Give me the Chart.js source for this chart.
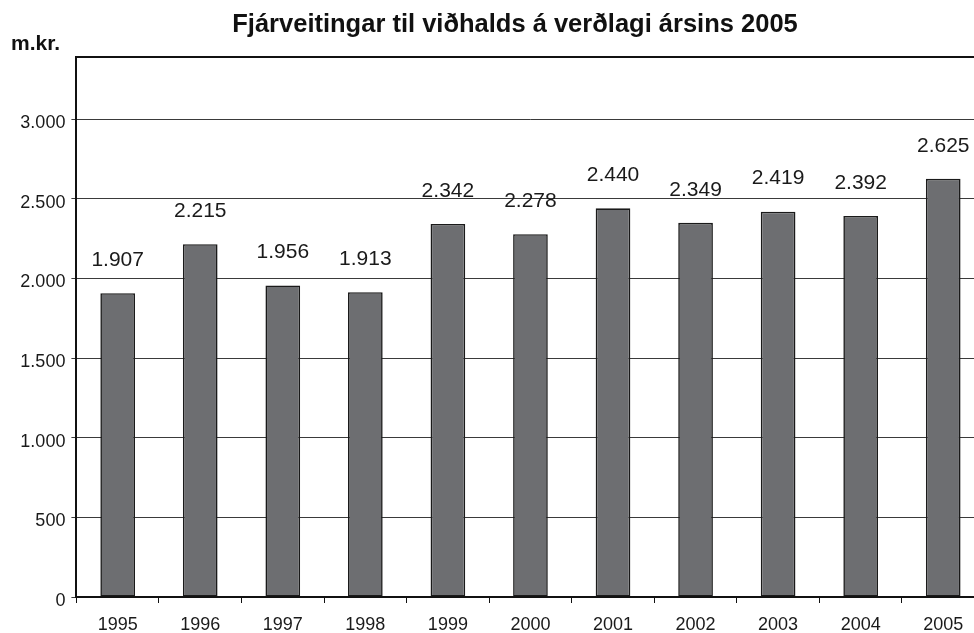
<!DOCTYPE html>
<html>
<head>
<meta charset="utf-8">
<script src="https://cdn.jsdelivr.net/npm/chart.js@4.4.1/dist/chart.umd.min.js"></script>
<style>
html,body{margin:0;padding:0;background:#fff;overflow:hidden;width:974px;height:633px;}
#wrap{width:1000px;height:633px;position:relative;}
</style>
</head>
<body>
<div id="wrap"><canvas id="c"></canvas></div>
<script>
const titleText = 'Fjárveitingar til viðhalds á verðlagi ársins 2005';
const unitLabel = 'm.kr.';
const years = ['1995','1996','1997','1998','1999','2000','2001','2002','2003','2004','2005'];
const amounts = [1907, 2215, 1956, 1913, 2342, 2278, 2440, 2349, 2419, 2392, 2625];
const yTicks = [0, 500, 1000, 1500, 2000, 2500, 3000];

const fmt = v => String(v).replace(/\B(?=(\d{3})+(?!\d))/g, '.');
const FONT = '"Liberation Sans", Arial, Helvetica, sans-serif';

const framePlugin = {
  id: 'frame',
  afterDraw(chart) {
    const ctx = chart.ctx, a = chart.chartArea;
    ctx.save();
    ctx.strokeStyle = '#111';
    ctx.lineWidth = 2;
    ctx.beginPath();
    ctx.moveTo(a.left - 1, a.top);
    ctx.lineTo(a.right, a.top);
    ctx.stroke();
    // title
    ctx.fillStyle = '#111';
    ctx.font = 'bold 25.5px ' + FONT;
    ctx.textAlign = 'center';
    ctx.textBaseline = 'alphabetic';
    ctx.fillText(titleText, 515, 32);
    // unit label
    ctx.font = 'bold 21px ' + FONT;
    ctx.textAlign = 'left';
    ctx.fillText(unitLabel, 11, 50);
    // data labels
    ctx.font = '21px ' + FONT;
    ctx.fillStyle = '#1a1a1a';
    ctx.textAlign = 'center';
    ctx.textBaseline = 'middle';
    const meta = chart.getDatasetMeta(0);
    meta.data.forEach((bar, i) => {
      ctx.fillText(fmt(amounts[i]), bar.x, bar.y - 33);
    });
    ctx.restore();
  }
};

new Chart(document.getElementById('c'), {
  type: 'bar',
  data: {
    labels: years,
    datasets: [{
      data: amounts,
      backgroundColor: '#6d6e71',
      borderColor: '#1a1a1a',
      borderWidth: 1.6,
      borderSkipped: false,
      barPercentage: 0.42,
      categoryPercentage: 1
    }]
  },
  options: {
    responsive: true,
    maintainAspectRatio: false,
    animation: false,
    layout: { padding: { left: 0, right: 15.5, top: 57, bottom: 0 } },
    plugins: {
      legend: { display: false },
      tooltip: { enabled: false },
      title: { display: false }
    },
    scales: {
      x: {
        afterFit(scale) { scale.height = 36; },
        grid: {
          offset: true,
          drawOnChartArea: false,
          drawTicks: true,
          tickLength: 6,
          color: '#111',
          lineWidth: 1
        },
        border: { display: true, color: '#111', width: 2 },
        ticks: {
          color: '#1a1a1a',
          font: { family: FONT, size: 18 },
          padding: 11,
          maxRotation: 0
        }
      },
      y: {
        min: 0,
        max: 3390,
        afterBuildTicks(scale) {
          scale.ticks = yTicks.map(v => ({ value: v }));
        },
        afterFit(scale) { scale.width = 76.4; },
        grid: {
          color: '#3a3a3a',
          lineWidth: 1,
          tickLength: 5,
          drawTicks: true
        },
        border: { display: true, color: '#111', width: 2 },
        ticks: {
          color: '#1a1a1a',
          font: { family: FONT, size: 18 },
          padding: 6,
          labelOffset: 4,
          callback: v => fmt(v)
        }
      }
    }
  },
  plugins: [framePlugin]
});
</script>
</body>
</html>
